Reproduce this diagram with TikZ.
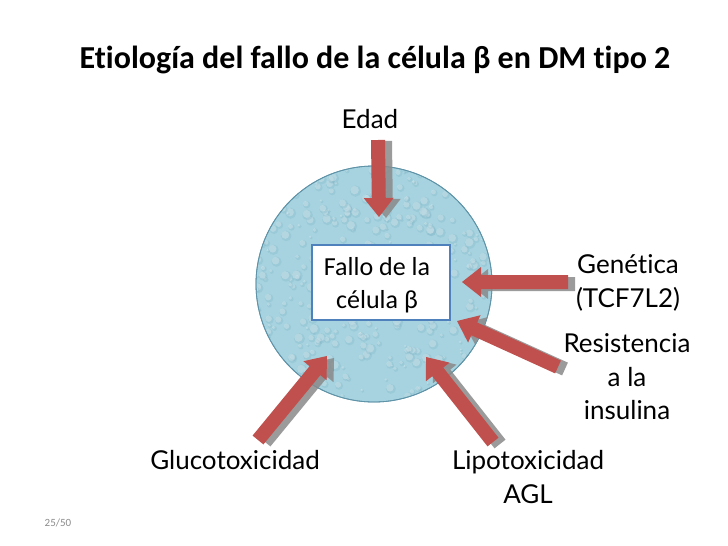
\documentclass[tikz,border=0pt]{standalone}
\usepackage{fontspec}
\setmainfont{Carlito}[Ligatures=NoCommon]
\newfontfamily\gillfont{Lato}[Ligatures=NoCommon]
\usetikzlibrary{calc}
\definecolor{arrred}{HTML}{C0504D}
\definecolor{arrgray}{HTML}{8A8A8A}
\definecolor{cellblue}{HTML}{A6D3DF}
\definecolor{celledge}{HTML}{5F93A8}
\definecolor{dropdark}{HTML}{78AEC0}
\definecolor{boxblue}{HTML}{4F81BD}
\definecolor{pagegray}{HTML}{8C8C8C}

\newcommand\fatarrow[4]{% tail, tip, style, offset
  \coordinate (fa-t) at ($(#1)+#4$);
  \coordinate (fa-h) at ($(#2)+#4$);
  \coordinate (fa-b) at ($(fa-h)!19pt!(fa-t)$);
  \fill[#3] ($(fa-t)!7pt!90:(fa-h)$) -- ($(fa-b)!7pt!90:(fa-h)$)
     -- ($(fa-b)!15pt!90:(fa-h)$) -- (fa-h) -- ($(fa-b)!15pt!-90:(fa-h)$)
     -- ($(fa-b)!7pt!-90:(fa-h)$) -- ($(fa-t)!7pt!-90:(fa-h)$) -- cycle;
}

\tikzset{
  lbl/.style={font=\gillfont\fontsize{26}{30}\selectfont, anchor=base, inner sep=0pt},
  boxtxt/.style={font=\fontsize{26}{30}\selectfont, anchor=base, inner sep=0pt},
  redarrow/.style={fill=arrred},
  grayarrow/.style={fill=arrgray, opacity=0.85},
  cellbox/.style={draw=boxblue, line width=1.3pt, fill=white, minimum width=138pt, minimum height=75pt, inner sep=0pt},
}

\begin{document}
\begin{tikzpicture}[x=1pt,y=-1pt]
\useasboundingbox (0,0) rectangle (728,546);
\fill[white] (0,0) rectangle (728,546);

% title
\node[font=\bfseries\fontsize{32}{36}\selectfont, anchor=base, inner sep=0pt] (title) at (375,68)
  {Etiología del fallo de la célula β en DM tipo 2};

% cell
\node[circle, fill=cellblue, draw=celledge, line width=0.8pt, minimum size=236pt, inner sep=0pt] (cell) at (374,284) {};
\begin{scope}
  \clip (374,284) circle[radius=117pt];
  \pgfmathsetseed{11}
  \foreach \i in {1,...,480} {
    \pgfmathsetmacro\dx{rnd*240-120}
    \pgfmathsetmacro\dy{rnd*240-120}
    \pgfmathsetmacro\rr{1.2+rnd*4.5}
    \pgfmathsetmacro\rs{0.75*\rr}
    \fill[dropdark, opacity=0.25] ({374+\dx+0.9},{284+\dy+1.0}) circle[radius=\rr pt];
    \fill[white, opacity=0.25] ({374+\dx},{284+\dy}) circle[radius=\rs pt];
  }
\end{scope}
\draw[celledge, line width=0.8pt] (cell.center) circle[radius=118pt];

% central box
\node[cellbox] (box) at (381,282.5) {};
\node[boxtxt] (boxl1) at (377,275) {Fallo de la};
\node[boxtxt] (boxl2) at (377,308) {célula β};

% labels
\node[lbl] (edad) at (370,128) {Edad};
\node[lbl] (gen1) at (628,273) {Genética};
\node[lbl] (gen2) at (628,307) {(TCF7L2)};
\node[lbl] (res1) at (627,352) {Resistencia};
\node[lbl] (res2) at (627,386) {a la};
\node[lbl] (res3) at (627,419) {insulina};
\node[lbl] (glu) at (235,469) {Glucotoxicidad};
\node[lbl] (lip1) at (528,469) {Lipotoxicidad};
\node[lbl] (lip2) at (528,503) {AGL};
\node[font=\fontsize{11}{12}\selectfont, text=pagegray, anchor=base, inner sep=0pt] (page) at (58,526) {25/50};

% arrow end points
\coordinate (edT) at (378,140);  \coordinate (edH) at (379,217);
\coordinate (geT) at (568,282);  \coordinate (geH) at (462,282);
\coordinate (reT) at (558,367);  \coordinate (reH) at (457,321);
\coordinate (glT) at (258,440);  \coordinate (glH) at (327,356);
\coordinate (liT) at (493,442);  \coordinate (liH) at (426,357);

% shadows
\fatarrow{edT}{edH}{grayarrow}{(7,1)}
\fatarrow{geT}{geH}{grayarrow}{(7,2)}
\fatarrow{reT}{reH}{grayarrow}{(7,2)}
\fatarrow{glT}{glH}{grayarrow}{(7,2)}
\fatarrow{liT}{liH}{grayarrow}{(7,2)}
% arrows
\fatarrow{edT}{edH}{redarrow}{(0,0)}
\fatarrow{geT}{geH}{redarrow}{(0,0)}
\fatarrow{reT}{reH}{redarrow}{(0,0)}
\fatarrow{glT}{glH}{redarrow}{(0,0)}
\fatarrow{liT}{liH}{redarrow}{(0,0)}
\end{tikzpicture}
\end{document}
